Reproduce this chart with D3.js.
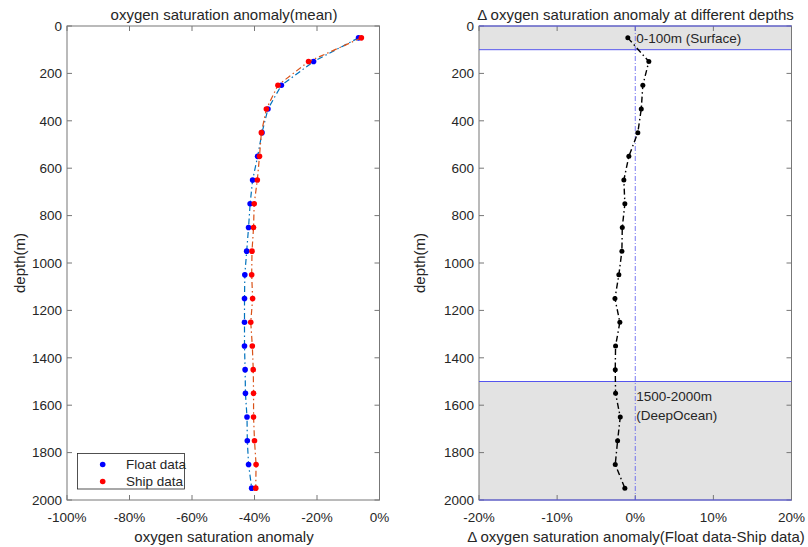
<!DOCTYPE html>
<html>
<head>
<meta charset="utf-8">
<script src="https://cdn.jsdelivr.net/npm/d3@7"></script>
<style>
  body { margin: 0; background: #fff; }
  text { font-family: "Liberation Sans", Arial, sans-serif; fill: #262626; }
</style>
</head>
<body>
<div id="chart"></div>
<script>
// datos: profundidades (m)
const depths = [50, 150, 250, 350, 450, 550, 650, 750, 850, 950, 1050, 1150, 1250, 1350, 1450, 1550, 1650, 1750, 1850, 1950];
// anomalía media de saturación de oxígeno (%)
const floatData = [-6.7, -21.1, -31.4, -35.7, -37.6, -39.0, -40.6, -41.4, -41.9, -42.5, -43.1, -43.2, -43.2, -43.2, -43.0, -42.9, -42.4, -42.3, -41.9, -40.9];
const shipData = [-5.8, -22.7, -32.5, -36.2, -37.8, -38.4, -39.1, -40.1, -40.3, -40.8, -40.9, -40.6, -41.2, -40.7, -40.4, -40.3, -40.3, -40.0, -39.5, -39.6];
// diferencia Float - Ship (%)
const deltaData = [-0.95, 1.74, 0.97, 0.77, 0.33, -0.82, -1.46, -1.33, -1.66, -1.71, -2.1, -2.6, -1.97, -2.52, -2.56, -2.52, -1.92, -2.26, -2.56, -1.33];

const depthTicks = [0, 200, 400, 600, 800, 1000, 1200, 1400, 1600, 1800, 2000];
const leftXTicks = [-100, -80, -60, -40, -20, 0];
const rightXTicks = [-20, -10, 0, 10, 20];
const bands = [[0, 100], [1500, 2000]];

const width = 808, height = 547;
const plotTop = 26, plotBottom = 500;
const tickLen = 5;
const dashDot = "6,3,1.5,3";
const axisColor = "#777";
const bandLine = "#5555ee";

const svg = d3.select("#chart").append("svg")
    .attr("width", width).attr("height", height);

const y = d3.scaleLinear().domain([0, 2000]).range([plotTop, plotBottom]);

// dibujar ejes tipo MATLAB (caja con marcas hacia dentro)
function drawAxes(g, x, xTicks, x0, x1) {
    g.append("rect")
        .attr("x", x0).attr("y", plotTop)
        .attr("width", x1 - x0).attr("height", plotBottom - plotTop)
        .attr("fill", "none").attr("stroke", axisColor).attr("stroke-width", 1);

    xTicks.forEach(t => {
        const px = x(t);
        g.append("line").attr("x1", px).attr("x2", px).attr("y1", plotBottom).attr("y2", plotBottom - tickLen)
            .attr("stroke", axisColor);
        g.append("line").attr("x1", px).attr("x2", px).attr("y1", plotTop).attr("y2", plotTop + tickLen)
            .attr("stroke", axisColor);
        g.append("text").attr("x", px).attr("y", 522)
            .attr("text-anchor", "middle").attr("font-size", 13.5)
            .text(t + "%");
    });
    depthTicks.forEach(t => {
        const py = y(t);
        g.append("line").attr("x1", x0).attr("x2", x0 + tickLen).attr("y1", py).attr("y2", py)
            .attr("stroke", axisColor);
        g.append("line").attr("x1", x1).attr("x2", x1 - tickLen).attr("y1", py).attr("y2", py)
            .attr("stroke", axisColor);
        g.append("text").attr("x", x0 - 5).attr("y", py).attr("dy", "0.35em")
            .attr("text-anchor", "end").attr("font-size", 13.5)
            .text(t);
    });
}

// ---- panel izquierdo ----
const xL = d3.scaleLinear().domain([-100, 0]).range([67, 379.5]);
const gL = svg.append("g");
drawAxes(gL, xL, leftXTicks, 67, 379.5);

const seriesL = [
    { values: floatData, line: "#0072BD", marker: "#0000ff", name: "Float data" },
    { values: shipData, line: "#D95319", marker: "#ff0000", name: "Ship data" }
];
const lineL = d3.line().x(d => xL(d[0])).y(d => y(d[1]));
seriesL.forEach(s => {
    const pts = s.values.map((v, i) => [v, depths[i]]);
    gL.append("path").attr("d", lineL(pts))
        .attr("fill", "none").attr("stroke", s.line).attr("stroke-width", 1.2)
        .attr("stroke-dasharray", dashDot);
    gL.selectAll(null).data(pts).enter().append("circle")
        .attr("cx", d => xL(d[0])).attr("cy", d => y(d[1])).attr("r", 2.8)
        .attr("fill", s.marker);
});

gL.append("text").attr("x", 224).attr("y", 20)
    .attr("text-anchor", "middle").attr("font-size", 15)
    .text("oxygen saturation anomaly(mean)");
gL.append("text").attr("x", 224).attr("y", 542)
    .attr("text-anchor", "middle").attr("font-size", 15)
    .text("oxygen saturation anomaly");
gL.append("text").attr("transform", `translate(25,${(plotTop + plotBottom) / 2}) rotate(-90)`)
    .attr("text-anchor", "middle").attr("font-size", 15)
    .text("depth(m)");

// leyenda
const leg = gL.append("g");
leg.append("rect").attr("x", 77.5).attr("y", 453.5).attr("width", 107).attr("height", 35.5)
    .attr("fill", "#fff").attr("stroke", "#262626").attr("stroke-width", 0.8);
seriesL.forEach((s, i) => {
    const ly = 464.5 + i * 17;
    leg.append("circle").attr("cx", 102.7).attr("cy", ly).attr("r", 2.8).attr("fill", s.marker);
    leg.append("text").attr("x", 126).attr("y", ly).attr("dy", "0.35em")
        .attr("font-size", 13.5).text(s.name);
});

// ---- panel derecho ----
const xR = d3.scaleLinear().domain([-20, 20]).range([479, 791.5]);
const gR = svg.append("g");

// franjas grises
bands.forEach(b => {
    gR.append("rect").attr("x", 479).attr("y", y(b[0]))
        .attr("width", 791.5 - 479).attr("height", y(b[1]) - y(b[0]))
        .attr("fill", "#e3e3e3");
});
drawAxes(gR, xR, rightXTicks, 479, 791.5);
// líneas de límite
bands.flat().forEach(d => {
    gR.append("line").attr("x1", 479).attr("x2", 791.5).attr("y1", y(d)).attr("y2", y(d))
        .attr("stroke", bandLine).attr("stroke-width", 1);
});
gR.append("line").attr("x1", xR(0)).attr("x2", xR(0)).attr("y1", plotTop).attr("y2", plotBottom)
    .attr("stroke", bandLine).attr("stroke-width", 0.8).attr("stroke-dasharray", "5,2,1,2");

const ptsR = deltaData.map((v, i) => [v, depths[i]]);
gR.append("path").attr("d", d3.line().x(d => xR(d[0])).y(d => y(d[1]))(ptsR))
    .attr("fill", "none").attr("stroke", "#000").attr("stroke-width", 1.4)
    .attr("stroke-dasharray", dashDot);
gR.selectAll(null).data(ptsR).enter().append("circle")
    .attr("cx", d => xR(d[0])).attr("cy", d => y(d[1])).attr("r", 2.5)
    .attr("fill", "#000");

gR.append("text").attr("x", xR(0) + 1).attr("y", y(50)).attr("dy", "0.35em")
    .attr("font-size", 13.5).text("0-100m (Surface)");
gR.append("text").attr("x", xR(0) + 1).attr("y", 396).attr("dy", "0.35em")
    .attr("font-size", 13.5).text("1500-2000m");
gR.append("text").attr("x", xR(0) + 1).attr("y", 415.5).attr("dy", "0.35em")
    .attr("font-size", 13.5).text("(DeepOcean)");

gR.append("text").attr("x", 635.5).attr("y", 20)
    .attr("text-anchor", "middle").attr("font-size", 15)
    .text("\u0394 oxygen saturation anomaly at different depths");
gR.append("text").attr("x", 636).attr("y", 542)
    .attr("text-anchor", "middle").attr("font-size", 15)
    .text("\u0394 oxygen saturation anomaly(Float data-Ship data)");
gR.append("text").attr("transform", `translate(425,${(plotTop + plotBottom) / 2}) rotate(-90)`)
    .attr("text-anchor", "middle").attr("font-size", 15)
    .text("depth(m)");
</script>
</body>
</html>
